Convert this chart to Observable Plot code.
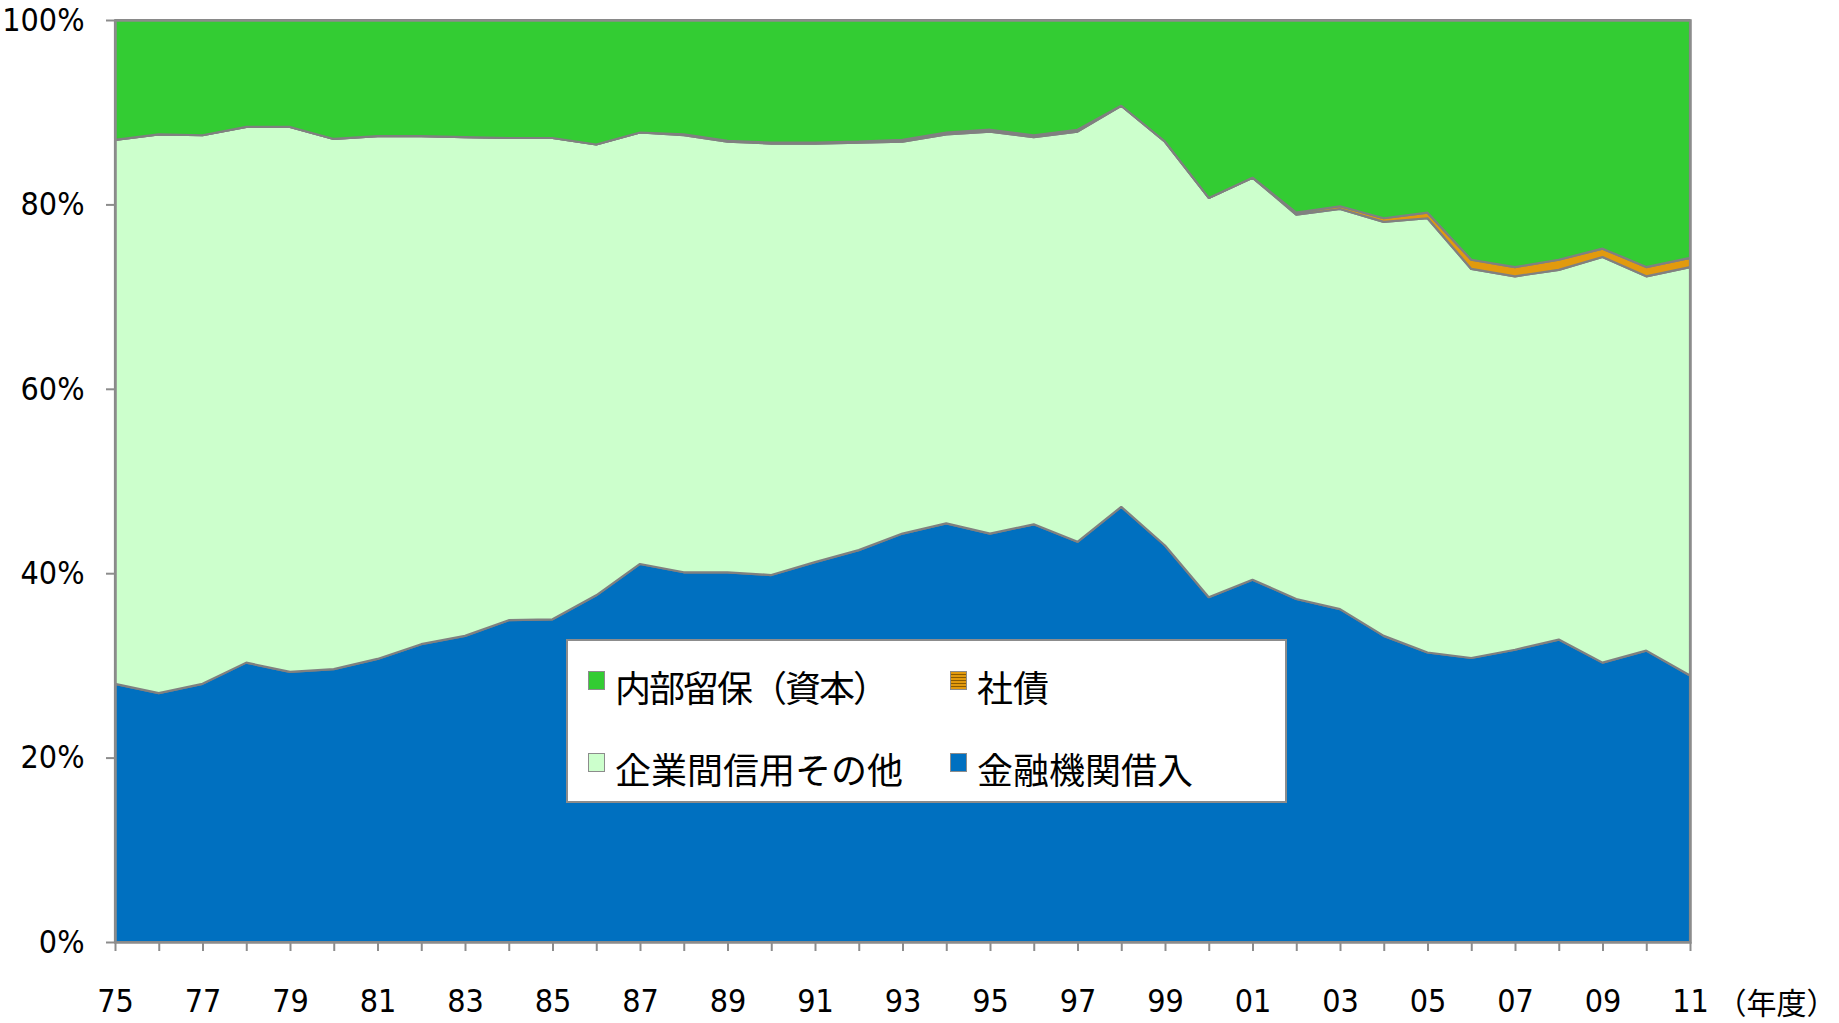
<!DOCTYPE html>
<html>
<head>
<meta charset="utf-8">
<script src="https://cdn.jsdelivr.net/npm/d3@7"></script>
<script src="https://cdn.jsdelivr.net/npm/@observablehq/plot@0.6"></script>
<style>
  body { margin: 0; background: #fff; }
  #wrap { position: relative; width: 1839px; height: 1023px; }
  #legend {
    position: absolute; left: 566px; top: 639px; width: 721px; height: 164px;
    border: 2px solid #8c8c8c; background: #fff; box-sizing: border-box;
    font-family: "Noto Sans CJK JP", sans-serif; font-size: 36px; color: #000;
  }
  .item { position: absolute; height: 40px; }
  .sw { position: absolute; left: 0; top: 3px; width: 15px; height: 17px; border: 1px solid #8c8c8c; box-sizing: content-box; }
  .lb { position: absolute; left: 27px; top: 0; line-height: 36px; white-space: nowrap; }
</style>
</head>
<body>
<div id="wrap">
  <div id="chart"></div>
  <div id="legend"></div>
</div>
<script>
const years = [1975,1976,1977,1978,1979,1980,1981,1982,1983,1984,1985,1986,1987,1988,1989,1990,1991,1992,1993,1994,1995,1996,1997,1998,1999,2000,2001,2002,2003,2004,2005,2006,2007,2008,2009,2010,2011];

// 金融機関借入 (%)
const bankLoans = [28.0,27.0,28.0,30.3,29.3,29.6,30.7,32.3,33.2,34.9,35.0,37.6,41.0,40.1,40.1,39.8,41.2,42.5,44.3,45.4,44.3,45.3,43.4,47.2,43.0,37.4,39.3,37.2,36.1,33.2,31.4,30.8,31.7,32.8,30.3,31.6,28.9];
// 企業間信用その他 (%)
const tradeCredit = [59.0,60.6,59.5,58.1,59.1,57.5,56.7,55.1,54.1,52.3,52.2,48.9,46.8,47.4,46.7,46.8,45.4,44.2,42.5,42.2,43.6,42.0,44.5,43.5,43.8,43.3,43.6,41.7,43.4,44.9,47.1,42.2,40.5,40.1,44.0,40.6,44.3];
// 社債 (%)
const bonds = [0,0,0,0,0,0,0,0,0,0,0,0,0,0.1,0.1,0.1,0.1,0.1,0.2,0.2,0.2,0.2,0.2,0,0,0,0,0.2,0.3,0.4,0.6,1.0,1.0,1.1,0.9,1.0,1.0];
// 内部留保（資本） (%)
const retained = [13.0,12.4,12.5,11.6,11.6,12.9,12.6,12.6,12.7,12.8,12.8,13.5,12.2,12.4,13.1,13.3,13.3,13.2,13.0,12.2,11.9,12.5,11.9,9.3,13.2,19.3,17.1,20.9,20.2,21.5,20.9,26.0,26.8,26.0,24.8,26.8,25.8];

const seriesNames = ["金融機関借入", "企業間信用その他", "社債", "内部留保（資本）"];
const seriesColors = ["#0070C0", "#CCFFCC", "#E29A0E", "#33CC33"];
const yTicks = [0, 20, 40, 60, 80, 100];
const xUnit = "（年度）";

const seriesValues = [bankLoans, tradeCredit, bonds, retained];
const data = [];
years.forEach((yr, i) => {
  seriesNames.forEach((s, k) => data.push({year: yr, series: s, value: seriesValues[k][i]}));
});

const numFont = '"Liberation Sans Narrow", "DejaVu Sans Condensed", "Arial Narrow", sans-serif';

const chart = Plot.plot({
  width: 1839,
  height: 1023,
  marginLeft: 115,
  marginRight: 149,
  marginTop: 20,
  marginBottom: 81,
  x: {domain: [1975, 2011]},
  y: {domain: [0, 100]},
  color: {domain: seriesNames, range: seriesColors},
  style: {fontFamily: numFont, fontSize: "32px", color: "#000", background: "#fff", overflow: "visible"},
  marks: [
    Plot.areaY(data, {x: "year", y: "value", z: "series", fill: "series", order: seriesNames,
      stroke: "#808080", strokeWidth: 2.2, strokeLinejoin: "miter"}),
    Plot.frame({stroke: "#8c8c8c", strokeWidth: 2.5}),
    Plot.axisY({ticks: yTicks, tickFormat: d => d + "%", tickSize: 9, tickPadding: 22,
      stroke: "#8c8c8c", strokeWidth: 2, label: null, fontSize: 32}),
    Plot.axisX({ticks: years, tickFormat: d => (d % 2 ? String(d % 100).padStart(2, "0") : ""),
      tickSize: 9, tickPadding: 38, stroke: "#8c8c8c", strokeWidth: 2, label: null, fontSize: 32}),
    Plot.text([xUnit], {frameAnchor: "bottom-right", dx: 26, dy: 62, text: d => d,
      textAnchor: "start", lineAnchor: "middle", fontSize: 30,
      fontFamily: '"Noto Sans CJK JP", sans-serif', fill: "#000"})
  ]
});
document.getElementById("chart").appendChild(chart);

// legend (2 x 2 grid), order as in reference
const legendOrder = [
  {name: "内部留保（資本）", label: "内部留保（資本）", col: 0, row: 0, ls: -2},
  {name: "社債", label: "社債", col: 1, row: 0, ls: 0},
  {name: "企業間信用その他", label: "企業間信用その他", col: 0, row: 1, ls: 0},
  {name: "金融機関借入", label: "金融機関借入", col: 1, row: 1, ls: 0}
];
const legend = document.getElementById("legend");
legendOrder.forEach(it => {
  const div = document.createElement("div");
  div.className = "item";
  div.style.left = (20 + it.col * 362) + "px";
  div.style.top = (27 + it.row * 82) + "px";
  const sw = document.createElement("div");
  sw.className = "sw";
  const c = seriesColors[seriesNames.indexOf(it.name)];
  if (it.name === "社債") {
    sw.style.background = "repeating-linear-gradient(to bottom, #E29A0E 0px, #E29A0E 2px, #8a5a00 2px, #8a5a00 3px)";
  } else {
    sw.style.background = c;
  }
  const lb = document.createElement("div");
  lb.className = "lb";
  lb.style.letterSpacing = it.ls + "px";
  lb.textContent = it.label;
  div.appendChild(sw);
  div.appendChild(lb);
  legend.appendChild(div);
});
</script>
</body>
</html>
